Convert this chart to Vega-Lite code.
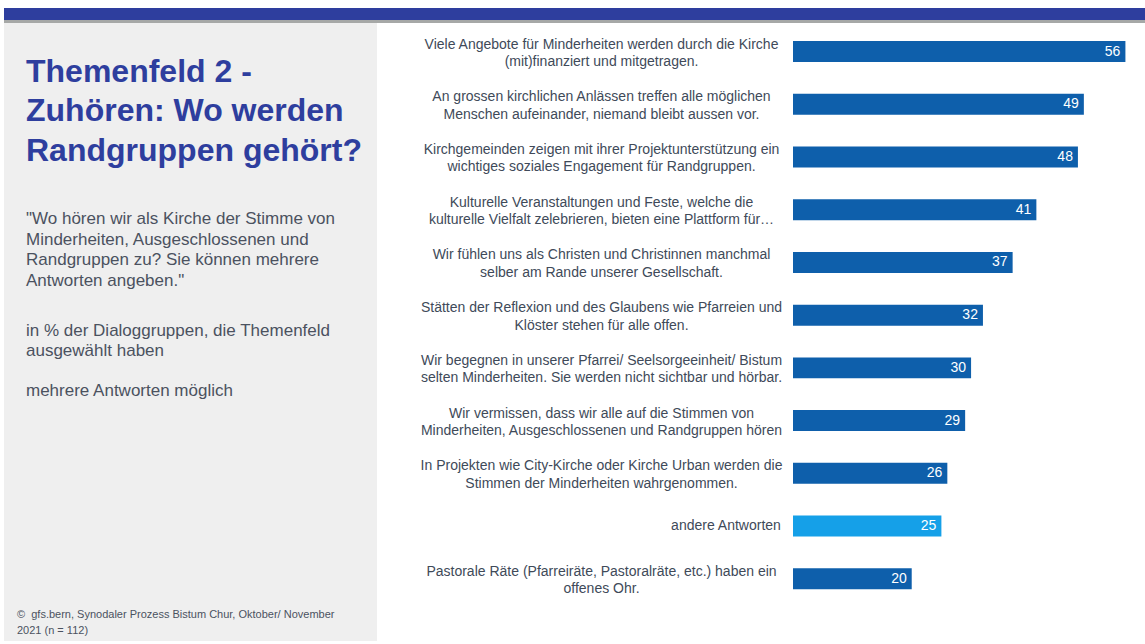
{
  "$schema": "https://vega.github.io/schema/vega-lite/v6.json",
  "padding": {"left": 4, "top": 8, "right": 0, "bottom": 0},
  "background": "white",
  "bounds": "flush",
  "spacing": 0,
  "title": {
    "text": ["©\u00a0\u00a0gfs.bern, Synodaler Prozess Bistum Chur, Oktober/ November", "2021 (n = 112)"],
    "orient": "bottom", "anchor": "start", "frame": "bounds", "offset": -32, "dx": 13,
    "font": "Liberation Sans", "fontSize": 11, "fontWeight": "normal", "color": "#4b525f", "lineHeight": 16
  },
  "vconcat": [
    {
      "width": 1141, "height": 12,
      "view": {"fill": "#2e3e9e", "stroke": null},
      "data": {"values": [{}]},
      "mark": {"type": "text", "text": ""}
    },
    {
      "bounds": "flush",
      "spacing": 416,
      "title": {
        "text": ["in % der Dialoggruppen, die Themenfeld", "ausgewählt haben", "\u200b", "mehrere Antworten möglich"],
        "orient": "top", "anchor": "start", "frame": "group", "offset": -380, "dx": 22,
        "font": "Liberation Sans", "fontSize": 17, "fontWeight": "normal", "color": "#4b525f", "lineHeight": 20
      },
      "hconcat": [
        {
          "width": 373, "height": 621,
          "view": {"fill": "#efefef", "stroke": null},
          "title": {
            "text": ["Themenfeld 2 -", "Zuhören: Wo werden", "Randgruppen gehört?"],
            "subtitle": ["\"Wo hören wir als Kirche der Stimme von", "Minderheiten, Ausgeschlossenen und", "Randgruppen zu? Sie können mehrere", "Antworten angeben.\""],
            "orient": "top", "anchor": "start", "frame": "group", "offset": -270, "dx": 22,
            "font": "Liberation Sans", "fontSize": 32, "fontWeight": "bold", "color": "#2e3e9e", "lineHeight": 39.5,
            "subtitleFont": "Liberation Sans", "subtitleFontSize": 17, "subtitleColor": "#4b525f", "subtitleLineHeight": 20.7, "subtitlePadding": 43
          },
          "data": {"values": [{}]},
          "mark": {"type": "text", "text": ""}
        },
        {
          "width": 352, "height": 621,
          "data": {"values": [
            {"aussage": "Viele Angebote für Minderheiten werden durch die Kirche|(mit)finanziert und mitgetragen.", "wert": 56, "kategorie": "Aussage"},
            {"aussage": "An grossen kirchlichen Anlässen treffen alle möglichen|Menschen aufeinander, niemand bleibt aussen vor.", "wert": 49, "kategorie": "Aussage"},
            {"aussage": "Kirchgemeinden zeigen mit ihrer Projektunterstützung ein|wichtiges soziales Engagement für Randgruppen.", "wert": 48, "kategorie": "Aussage"},
            {"aussage": "Kulturelle Veranstaltungen und Feste, welche die|kulturelle Vielfalt zelebrieren, bieten eine Plattform für…", "wert": 41, "kategorie": "Aussage"},
            {"aussage": "Wir fühlen uns als Christen und Christinnen manchmal|selber am Rande unserer Gesellschaft.", "wert": 37, "kategorie": "Aussage"},
            {"aussage": "Stätten der Reflexion und des Glaubens wie Pfarreien und|Klöster stehen für alle offen.", "wert": 32, "kategorie": "Aussage"},
            {"aussage": "Wir begegnen in unserer Pfarrei/ Seelsorgeeinheit/ Bistum|selten Minderheiten. Sie werden nicht sichtbar und hörbar.", "wert": 30, "kategorie": "Aussage"},
            {"aussage": "Wir vermissen, dass wir alle auf die Stimmen von|Minderheiten, Ausgeschlossenen und Randgruppen hören", "wert": 29, "kategorie": "Aussage"},
            {"aussage": "In Projekten wie City-Kirche oder Kirche Urban werden die|Stimmen der Minderheiten  wahrgenommen.", "wert": 26, "kategorie": "Aussage"},
            {"aussage": "andere Antworten", "wert": 25, "kategorie": "andere"},
            {"aussage": "Pastorale Räte (Pfarreiräte, Pastoralräte, etc.) haben ein|offenes Ohr.", "wert": 20, "kategorie": "Aussage"}
          ]},
          "encoding": {
            "y": {
              "field": "aussage", "type": "nominal", "sort": null,
              "scale": {"paddingInner": 0.602, "paddingOuter": 0.69, "align": 0.289},
              "axis": {
                "title": null, "domain": false, "ticks": false, "tickSize": 0,
                "labelPadding": 192, "labelAlign": "center", "labelBaseline": "middle",
                "labelOffset": {"condition": {"test": "datum.value === 'andere Antworten'", "value": 0}, "value": -7},
                "labelFont": "Liberation Sans", "labelFontSize": 14, "labelColor": "#404a59",
                "labelLineHeight": 17.5, "labelLimit": 500, "labelOverlap": false, "labelFlush": false,
                "labelExpr": "datum.value === 'andere Antworten' ? '\u200b\u00a0\u00a0\u00a0\u00a0\u00a0\u00a0\u00a0\u00a0\u00a0\u00a0\u00a0\u00a0\u00a0\u00a0\u00a0\u00a0\u00a0\u00a0\u00a0\u00a0\u00a0\u00a0\u00a0\u00a0\u00a0\u00a0\u00a0\u00a0\u00a0\u00a0\u00a0\u00a0\u00a0\u00a0\u00a0\u00a0\u00a0\u00a0\u00a0\u00a0\u00a0\u00a0\u00a0\u00a0\u00a0\u00a0\u00a0\u00a0\u00a0\u00a0\u00a0\u00a0\u00a0\u00a0\u00a0\u00a0\u00a0\u00a0\u00a0\u00a0\u00a0\u00a0\u00a0\u00a0' + datum.value : split(datum.value, '|')"
              }
            },
            "x": {"field": "wert", "type": "quantitative", "scale": {"domain": [0, 59.3], "nice": false, "zero": true}, "axis": null}
          },
          "layer": [
            {
              "mark": {"type": "bar"},
              "encoding": {
                "color": {"field": "kategorie", "type": "nominal", "scale": {"domain": ["Aussage", "andere"], "range": ["#0e5fab", "#15a0e8"]}, "legend": null}
              }
            },
            {
              "mark": {"type": "text", "align": "right", "baseline": "middle", "dx": -5, "color": "#ffffff", "font": "Liberation Sans", "fontSize": 14},
              "encoding": {"text": {"field": "wert", "type": "quantitative"}}
            }
          ]
        }
      ]
    },
    {
      "width": 1141, "height": 3,
      "view": {"fill": "#a6a8a7", "stroke": null},
      "data": {"values": [{}]},
      "mark": {"type": "text", "text": ""}
    }
  ],
  "config": {
    "view": {"stroke": null},
    "font": "Liberation Sans"
  }
}
